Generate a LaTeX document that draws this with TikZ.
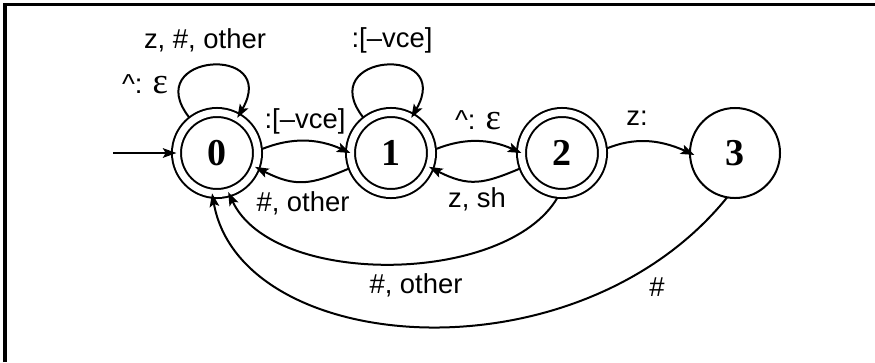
\documentclass[tikz,border=0pt]{standalone}
\usepackage{fontspec}
\setmainfont{Liberation Serif}
\setsansfont{Liberation Sans}
\usetikzlibrary{arrows.meta}
\newcommand{\epsym}{{\rmfamily\fontsize{26}{26}\selectfont ε}}

\begin{document}
\begin{tikzpicture}[
  x=0.025cm, y=0.025cm,
  every node/.style={font=\fontsize{19.5}{23}\selectfont\sffamily},
  state/.style={circle, draw, line width=0.05cm, minimum size=2.025cm, inner sep=0pt, outer sep=0pt,
                font=\fontsize{27}{27}\selectfont\rmfamily\bfseries},
  accept/.style={state, double, double distance=0.175cm},
  plain/.style={state, minimum size=2.25cm},
  arr/.style={-{Stealth[length=0.34cm, width=0.24cm, inset=0.07cm]}, line width=0.05cm},
  outer/.style={shorten <=0.1125cm},
  deep/.style={shorten >=-0.12cm},
  frame/.style={line width=0.075cm}
]
  \useasboundingbox (0,0) rectangle (875,-362);
  \draw[frame] (5,-362) -- (5,-4) -- (875,-4);

  % states
  \node[accept] (q0) at (217,-153) {0};
  \node[accept] (q1) at (391,-153) {1};
  \node[accept] (q2) at (562,-153) {2};
  \node[plain]  (q3) at (735,-153) {3};
  \coordinate (init) at (113,-153);

  % transitions
  \draw[arr] (init) -- (q0);
  \draw[arr, outer] (q0) to[out=128, in=60, distance=2.15cm] (q0);
  \draw[arr, outer] (q1) to[out=128, in=60, distance=2.15cm] (q1);
  \draw[arr, outer] (q0.3) to[out=22, in=156] (q1.180);
  \draw[arr, outer] (q1.200) to[out=-157, in=-27, looseness=1.2] (q0.-20);
  \draw[arr, outer] (q1.3) to[out=22, in=156] (q2.180);
  \draw[arr, outer] (q2.200) to[out=-157, in=-27, looseness=1.2] (q1.-20);
  \draw[arr, outer, deep] (q2.4) to[out=22, in=156] (q3.180);
  \draw[arr, outer] (q2.-93) .. controls +(-120:106) and +(-65:106) .. (q0.-74);
  \draw[arr] (q3.-100) .. controls +(-129:240) and +(-80:165) .. (q0.-97);

  % labels
  \node (lbl0a) at (205,-40) {z, \#, other};
  \node (lbl0b) at (145,-84) {\textasciicircum: \epsym};
  \node (lbl1a) at (392,-40) {:[–vce]};
  \node (lbl01) at (305,-121) {:[–vce]};
  \node (lbl10) at (303,-203) {\#, other};
  \node (lbl12) at (478,-120) {\textasciicircum: \epsym};
  \node (lbl21) at (477,-199) {z, sh};
  \node (lbl23) at (637,-118) {z:};
  \node (lbl20) at (416,-285) {\#, other};
  \node (lbl30) at (657,-287) {\#};
\end{tikzpicture}
\end{document}
